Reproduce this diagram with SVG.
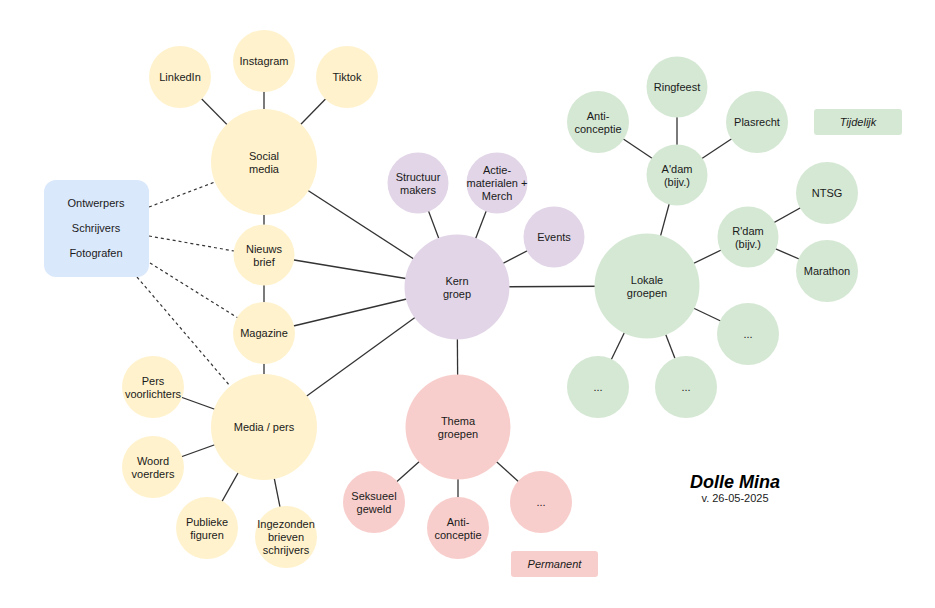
<svg xmlns="http://www.w3.org/2000/svg" width="935" height="608" viewBox="0 0 935 608">
<style>
text{font-family:"Liberation Sans",Arial,sans-serif;font-size:11px;fill:#1a1a1a;text-anchor:middle;dominant-baseline:central}
.y{fill:#fff2cc}.p{fill:#e1d5e7}.g{fill:#d5e8d4}.r{fill:#f8cecc}.b{fill:#dae8fc}
.l{stroke:#333;stroke-width:1.3;fill:none}
.d{stroke:#333;stroke-width:1.2;stroke-dasharray:3 3;fill:none}
.it{font-style:italic}
</style>
<rect width="935" height="608" fill="#fff"/>
<g id="connectors">
<line class="l" x1="180" y1="77" x2="264" y2="162"/>
<line class="l" x1="264" y1="61" x2="264" y2="162"/>
<line class="l" x1="347" y1="77" x2="264" y2="162"/>
<line class="l" x1="264" y1="162" x2="264" y2="427"/>
<line class="l" x1="153" y1="387" x2="264" y2="427"/>
<line class="l" x1="153" y1="467" x2="264" y2="427"/>
<line class="l" x1="207" y1="528" x2="264" y2="427"/>
<line class="l" x1="286" y1="537" x2="264" y2="427"/>
<line class="l" x1="457" y1="287" x2="264" y2="162"/>
<line class="l" x1="457" y1="287" x2="264" y2="255"/>
<line class="l" x1="457" y1="287" x2="264" y2="333"/>
<line class="l" x1="457" y1="287" x2="264" y2="427"/>
<line class="l" x1="457" y1="287" x2="418" y2="183"/>
<line class="l" x1="457" y1="287" x2="497" y2="183"/>
<line class="l" x1="457" y1="287" x2="554" y2="237"/>
<line class="l" x1="457" y1="287" x2="647" y2="286"/>
<line class="l" x1="457" y1="287" x2="458" y2="427"/>
<line class="l" x1="458" y1="427" x2="374" y2="502"/>
<line class="l" x1="458" y1="427" x2="458" y2="528"/>
<line class="l" x1="458" y1="427" x2="541" y2="502"/>
<line class="l" x1="647" y1="286" x2="677" y2="175"/>
<line class="l" x1="647" y1="286" x2="748" y2="237"/>
<line class="l" x1="647" y1="286" x2="748" y2="334"/>
<line class="l" x1="647" y1="286" x2="598" y2="387"/>
<line class="l" x1="647" y1="286" x2="686" y2="387"/>
<line class="l" x1="677" y1="175" x2="598" y2="122"/>
<line class="l" x1="677" y1="175" x2="677" y2="87"/>
<line class="l" x1="677" y1="175" x2="757" y2="122"/>
<line class="l" x1="748" y1="237" x2="827" y2="193"/>
<line class="l" x1="748" y1="237" x2="827" y2="271"/>
<line class="d" x1="149" y1="207" x2="215" y2="182"/>
<line class="d" x1="149" y1="236" x2="234" y2="251"/>
<line class="d" x1="150" y1="263" x2="238" y2="318"/>
<line class="d" x1="137" y1="277" x2="230" y2="386"/>
</g>
<g id="linkedin"><circle class="y" cx="180" cy="77" r="31"/><text x="180" y="77">LinkedIn</text></g>
<g id="instagram"><circle class="y" cx="264" cy="61" r="31"/><text x="264" y="61">Instagram</text></g>
<g id="tiktok"><circle class="y" cx="347" cy="77" r="31"/><text x="347" y="77">Tiktok</text></g>
<g id="social-media"><circle class="y" cx="264" cy="162" r="53"/><text x="264" y="155.5">Social</text><text x="264" y="168.5">media</text></g>
<g id="nieuwsbrief"><circle class="y" cx="264" cy="255" r="30.5"/><text x="264" y="248.5">Nieuws</text><text x="264" y="261.5">brief</text></g>
<g id="magazine"><circle class="y" cx="264" cy="333" r="31"/><text x="264" y="333">Magazine</text></g>
<g id="media-pers"><circle class="y" cx="264" cy="427" r="53"/><text x="264" y="427">Media / pers</text></g>
<g id="pers-voorlichters"><circle class="y" cx="153" cy="387" r="31"/><text x="153" y="380.5">Pers</text><text x="153" y="393.5">voorlichters</text></g>
<g id="woordvoerders"><circle class="y" cx="153" cy="467" r="31"/><text x="153" y="460.5">Woord</text><text x="153" y="473.5">voerders</text></g>
<g id="publieke-figuren"><circle class="y" cx="207" cy="528" r="31"/><text x="207" y="521.5">Publieke</text><text x="207" y="534.5">figuren</text></g>
<g id="ingezonden"><circle class="y" cx="286" cy="537" r="31"/><text x="286" y="524.3">Ingezonden</text><text x="286" y="537">brieven</text><text x="286" y="549.7">schrijvers</text></g>
<g id="makers"><rect class="b" x="44" y="180" width="105" height="97" rx="12"/><text x="96" y="203">Ontwerpers</text><text x="96" y="228">Schrijvers</text><text x="96" y="253">Fotografen</text></g>
<g id="kern-groep"><circle class="p" cx="457" cy="287" r="52.5"/><text x="457" y="280.5">Kern</text><text x="457" y="293.5">groep</text></g>
<g id="structuur-makers"><circle class="p" cx="418" cy="183" r="30.5"/><text x="418" y="176.5">Structuur</text><text x="418" y="189.5">makers</text></g>
<g id="actiematerialen"><circle class="p" cx="497" cy="183" r="30.5"/><text x="497" y="170.3">Actie-</text><text x="497" y="183">materialen +</text><text x="497" y="195.7">Merch</text></g>
<g id="events"><circle class="p" cx="554" cy="237" r="30.5"/><text x="554" y="237">Events</text></g>
<g id="thema-groepen"><circle class="r" cx="458" cy="427" r="52.5"/><text x="458" y="420.5">Thema</text><text x="458" y="433.5">groepen</text></g>
<g id="seksueel-geweld"><circle class="r" cx="374" cy="502" r="31"/><text x="374" y="495.5">Seksueel</text><text x="374" y="508.5">geweld</text></g>
<g id="thema-anticonceptie"><circle class="r" cx="458" cy="528" r="31"/><text x="458" y="521.5">Anti-</text><text x="458" y="534.5">conceptie</text></g>
<g id="thema-more"><circle class="r" cx="541" cy="502" r="31"/><text x="541" y="502">...</text></g>
<g id="permanent"><rect class="r" x="511" y="551" width="87" height="26" rx="3"/><text class="it" x="554.5" y="564">Permanent</text></g>
<g id="lokale-groepen"><circle class="g" cx="647" cy="286" r="52.5"/><text x="647" y="279.5">Lokale</text><text x="647" y="292.5">groepen</text></g>
<g id="adam"><circle class="g" cx="677" cy="175" r="30.5"/><text x="677" y="168.5">A'dam</text><text x="677" y="181.5">(bijv.)</text></g>
<g id="ringfeest"><circle class="g" cx="677" cy="87" r="30.5"/><text x="677" y="87">Ringfeest</text></g>
<g id="adam-anticonceptie"><circle class="g" cx="598" cy="122" r="31"/><text x="598" y="115.5">Anti-</text><text x="598" y="128.5">conceptie</text></g>
<g id="plasrecht"><circle class="g" cx="757" cy="122" r="31"/><text x="757" y="122">Plasrecht</text></g>
<g id="rdam"><circle class="g" cx="748" cy="237" r="30.5"/><text x="748" y="230.5">R'dam</text><text x="748" y="243.5">(bijv.)</text></g>
<g id="ntsg"><circle class="g" cx="827" cy="193" r="31"/><text x="827" y="193">NTSG</text></g>
<g id="marathon"><circle class="g" cx="827" cy="271" r="31"/><text x="827" y="271">Marathon</text></g>
<g id="lokaal-more-1"><circle class="g" cx="748" cy="334" r="31"/><text x="748" y="334">...</text></g>
<g id="lokaal-more-2"><circle class="g" cx="598" cy="387" r="31"/><text x="598" y="387">...</text></g>
<g id="lokaal-more-3"><circle class="g" cx="686" cy="387" r="31"/><text x="686" y="387">...</text></g>
<g id="tijdelijk"><rect class="g" x="814" y="109" width="88" height="26" rx="3"/><text class="it" x="858" y="122">Tijdelijk</text></g>
<g id="title"><text x="735" y="482" style="font-size:18px;font-weight:bold;font-style:italic;fill:#000">Dolle Mina</text><text x="735" y="498" style="font-size:11px">v. 26-05-2025</text></g>
</svg>
